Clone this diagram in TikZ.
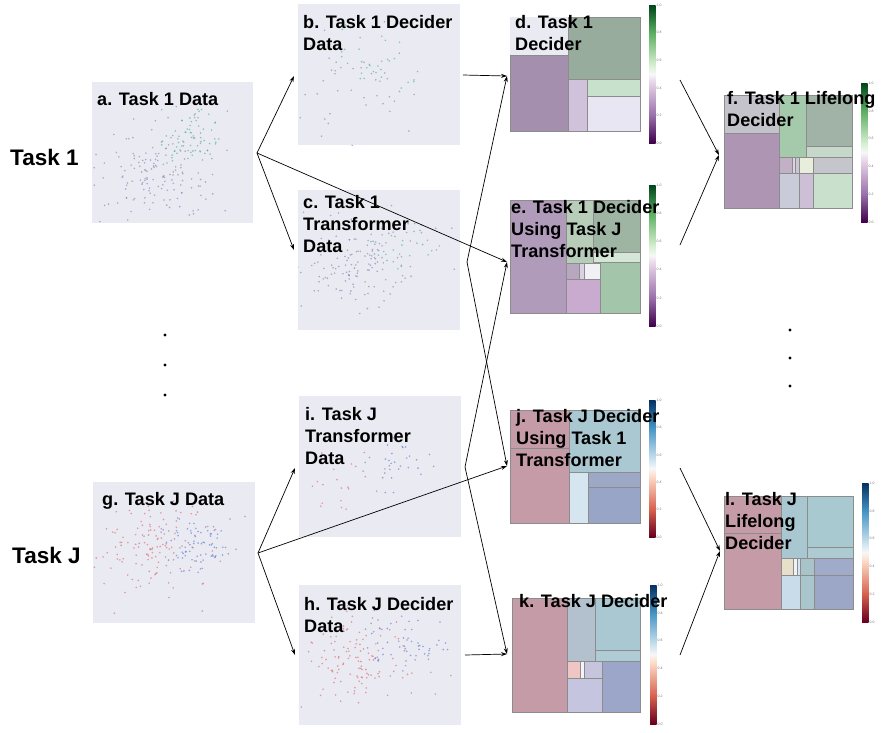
\documentclass[tikz,border=0pt]{standalone}
\usepackage{fontspec}
\setmainfont{Liberation Sans}
\usetikzlibrary{arrows.meta}

\definecolor{panelbg}{HTML}{EAEAF2}
\definecolor{ptsP}{RGB}{125,112,170}
\definecolor{ptsG}{RGB}{55,165,140}
\definecolor{ptsR}{RGB}{215,85,85}
\definecolor{ptsB}{RGB}{70,105,200}
\definecolor{pg0}{HTML}{40004B}
\definecolor{pg1}{HTML}{9970AB}
\definecolor{pg2}{HTML}{E7D4E8}
\definecolor{pg3}{HTML}{F7F7F7}
\definecolor{pg4}{HTML}{D9F0D3}
\definecolor{pg5}{HTML}{5AAE61}
\definecolor{pg6}{HTML}{00441B}
\definecolor{rb0}{HTML}{67001F}
\definecolor{rb1}{HTML}{D6604D}
\definecolor{rb2}{HTML}{FDDBC7}
\definecolor{rb3}{HTML}{F7F7F7}
\definecolor{rb4}{HTML}{D1E5F0}
\definecolor{rb5}{HTML}{4393C3}
\definecolor{rb6}{HTML}{053061}

\pgfdeclareverticalshading{prgn}{100bp}{color(0bp)=(pg0); color(25bp)=(pg0); color(35bp)=(pg1);
	color(47bp)=(pg2); color(50bp)=(pg3); color(53bp)=(pg4); color(65bp)=(pg5); color(75bp)=(pg6); color(100bp)=(pg6)}
\pgfdeclareverticalshading{rdbu}{100bp}{color(0bp)=(rb0); color(25bp)=(rb0); color(35bp)=(rb1);
	color(47bp)=(rb2); color(50bp)=(rb3); color(53bp)=(rb4); color(65bp)=(rb5); color(75bp)=(rb6); color(100bp)=(rb6)}

\newcommand{\blob}[6]{%
	\foreach \k in {1,...,#5} {%
		\pgfmathsetmacro{\px}{#1+#3*(rand+rand+rand)}%
		\pgfmathsetmacro{\py}{#2+#4*(rand+rand+rand)}%
		\fill[#6, opacity=.55] (\px,\py) circle (.9pt);%
	}%
}
\newcommand{\cells}[1]{%
	\foreach \xa/\ya/\xb/\yb/\c in {#1} {%
		\definecolor{cc}{HTML}{\c}%
		\filldraw[fill=cc, draw=black!45, line width=.4pt] (\xa,\ya) rectangle (\xb,\yb);%
	}%
}
\newcommand{\cbar}[4]{%
	\shade[shading=#4] (#1,#2) rectangle (#1+6.5,#3);
	\foreach \t [count=\n from 0] in {1.0,0.8,0.6,0.4,0.2,0.0}
		\node[ticklab] (cb#1-\n) at (#1+7.5, {#2+\n*(#3-#2)/5}) {\t};
}

\begin{document}
\begin{tikzpicture}[x=1pt, y=-1pt,
		panel/.style={fill=panelbg, anchor=north west, inner sep=0pt, outer sep=0pt},
		lab/.style={anchor=north west, inner sep=0pt, align=left, font=\fontsize{18.1}{22}\selectfont\bfseries},
		big/.style={anchor=north west, inner sep=0pt, font=\fontsize{22.5}{27}\selectfont\bfseries},
		ticklab/.style={anchor=west, inner sep=0pt, text=black!55, font=\fontsize{3.5}{4}\selectfont},
		arr/.style={line width=.7pt, arrows={-Stealth[length=6pt, width=4pt]}}]
	\useasboundingbox (0,0) rectangle (892,732);
	\pgfmathsetseed{11}

	\node[panel, minimum width=161pt, minimum height=141pt] (a) at (92,82) {};
	\node[panel, minimum width=162pt, minimum height=141pt] (b) at (298,4) {};
	\node[panel, minimum width=162pt, minimum height=140pt] (c) at (298,190) {};
	\node[panel, minimum width=162pt, minimum height=141pt] (g) at (93,482) {};
	\node[panel, minimum width=162pt, minimum height=141pt] (i) at (299,396) {};
	\node[panel, minimum width=162pt, minimum height=140pt] (h) at (299,585) {};

	\begin{scope}
		\clip (a.north west) rectangle (a.south east);
		\blob{150}{180}{28}{20}{120}{ptsP}
		\blob{140}{170}{45}{30}{30}{ptsP}
		\blob{190}{140}{16}{16}{80}{ptsG}
	\end{scope}
	\begin{scope}
		\clip (b.north west) rectangle (b.south east);
		\blob{340}{90}{35}{28}{45}{ptsP}
		\blob{375}{60}{22}{18}{35}{ptsG}
	\end{scope}
	\begin{scope}
		\clip (c.north west) rectangle (c.south east);
		\blob{350}{268}{28}{20}{110}{ptsP}
		\blob{370}{260}{45}{35}{20}{ptsP}
		\blob{395}{245}{20}{14}{40}{ptsG}
	\end{scope}
	\begin{scope}
		\clip (g.north west) rectangle (g.south east);
		\blob{145}{548}{25}{20}{110}{ptsR}
		\blob{160}{560}{45}{30}{25}{ptsR}
		\blob{200}{545}{18}{14}{80}{ptsB}
	\end{scope}
	\begin{scope}
		\clip (i.north west) rectangle (i.south east);
		\blob{340}{480}{25}{18}{20}{ptsR}
		\blob{395}{462}{18}{12}{30}{ptsB}
	\end{scope}
	\begin{scope}
		\clip (h.north west) rectangle (h.south east);
		\blob{350}{655}{28}{20}{110}{ptsR}
		\blob{370}{660}{45}{30}{20}{ptsR}
		\blob{405}{640}{18}{14}{55}{ptsB}
	\end{scope}

	\node[panel, minimum width=130pt, minimum height=114pt] (d) at (510,17) {};
	\node[panel, minimum width=130pt, minimum height=113pt] (e) at (510,200) {};
	\node[panel, minimum width=128pt, minimum height=113pt] (f) at (724,95) {};
	\node[panel, minimum width=130pt, minimum height=113pt] (j) at (510,410) {};
	\node[panel, minimum width=128pt, minimum height=114pt] (k) at (512,598) {};
	\node[panel, minimum width=129pt, minimum height=113pt] (l) at (724,496) {};

	\cells{510/55/568/131/A58FAE, 568/17/640/79/97AC9D, 568/79/587/131/D0C2DA,
		587/79/640/96/C8E1CD, 587/96/640/131/E8E6F2}
	\cells{510/200/566/313/B09BBB, 566/200/593/263/B7CDBA, 593/200/640/252/9FB5A4,
		593/252/640/262/D4E6D6, 566/263/579/279/B8A8BF, 579/263/584/279/D9D2E2,
		584/263/600/279/F0F0F5, 566/279/600/313/C9ABD0, 600/262/640/313/A3C6AA}
	\cells{724/95/779/133/C4C3CB, 724/133/779/208/AE95B4, 779/95/806/157/A5C9AB,
		806/95/852/146/A1B3A6, 806/146/852/157/C5D8C9, 779/157/792/173/C2B0C6,
		792/157/795/173/DCD4E4, 795/157/799/173/C8C8D0, 799/157/813/173/E8EEDB,
		813/157/852/173/C4C6CC, 779/173/799/208/CACBD9, 799/173/813/208/CDBFD5,
		813/173/852/208/C9E0CC}
	\cells{510/410/569/448/C49BA6, 510/448/569/523/C49BA6, 569/410/640/472/A9C8D1,
		569/472/588/523/D6E6F0, 588/472/640/487/9CA8C5, 588/487/640/523/98A5C6}
	\cells{512/598/567/712/C49BA6, 567/598/595/661/B3C1CE, 595/598/640/650/A9C8D1,
		595/650/640/661/AFCCD5, 567/661/580/678/EFC6C4, 580/661/584/678/F4F4F8,
		584/661/602/678/C7C4DD, 567/678/602/712/C5C5DF, 602/661/640/712/9BA6C8}
	\cells{724/496/781/533/C49BA6, 724/533/781/609/C49BA6, 781/496/807/558/A9C7D0,
		807/496/853/547/A9C9D1, 807/547/853/558/AECBD3, 781/558/793/575/E8DFCB,
		793/558/797/575/F2F2F6, 797/558/800/575/D6E6F0, 800/558/814/575/A9C3CB,
		814/558/853/575/9FABC8, 781/575/800/609/C8DCEA, 800/575/814/609/A9C6CC,
		814/575/853/609/9CA7C8}

	\cbar{649}{5}{143}{prgn}
	\cbar{649}{185}{326}{prgn}
	\cbar{861}{83}{222}{prgn}
	\cbar{649}{400}{537}{rdbu}
	\cbar{650}{585}{724}{rdbu}
	\cbar{862}{483}{622}{rdbu}

	\node[big] (t1) at (10,149) {Task 1};
	\node[big] (tJ) at (12,547) {Task J};
	\node[lab] (alab) at (97,92) {a. Task 1 Data};
	\node[lab] (blab) at (303,15) {b. Task 1 Decider\\Data};
	\node[lab] (clab) at (303,195) {c. Task 1\\Transformer\\Data};
	\node[lab] (dlab) at (515,15) {d. Task 1\\Decider};
	\node[lab] (elab) at (511,200) {e. Task 1 Decider\\Using Task J\\Transformer};
	\node[lab] (flab) at (727,91) {f. Task 1 Lifelong\\Decider};
	\node[lab] (glab) at (102,492) {g. Task J Data};
	\node[lab] (hlab) at (304,597) {h. Task J Decider\\Data};
	\node[lab] (ilab) at (305,407) {i. Task J\\Transformer\\Data};
	\node[lab] (jlab) at (516,409) {j. Task J Decider\\Using Task 1\\Transformer};
	\node[lab] (klab) at (519,594) {k. Task J Decider};
	\node[lab] (llab) at (725,492) {l. Task J\\Lifelong\\Decider};

	\coordinate (aout) at (257,153);
	\coordinate (gout) at (258,553);
	\coordinate (bin) at (294,76);
	\coordinate (cin) at (294,250);
	\coordinate (iin) at (295,468);
	\coordinate (hin) at (295,655);
	\coordinate (bout) at (463,75);
	\coordinate (cout) at (467,262);
	\coordinate (iout) at (465,467);
	\coordinate (hout) at (465,655);
	\coordinate (din) at (507,76);
	\coordinate (ein) at (507,262);
	\coordinate (jin) at (507,466);
	\coordinate (kin) at (507,654);
	\coordinate (dout) at (680,80);
	\coordinate (eout) at (680,245);
	\coordinate (jout) at (680,468);
	\coordinate (kout) at (680,655);
	\coordinate (fin) at (719,155);
	\coordinate (lin) at (720,551);

	\draw[arr] (aout) -- (bin);
	\draw[arr] (aout) -- (cin);
	\draw[arr] (aout) -- (ein);
	\draw[arr] (gout) -- (iin);
	\draw[arr] (gout) -- (hin);
	\draw[arr] (gout) -- (jin);
	\draw[arr] (bout) -- (din);
	\draw[arr] (cout) -- (din);
	\draw[arr] (cout) -- (jin);
	\draw[arr] (iout) -- (ein);
	\draw[arr] (iout) -- (kin);
	\draw[arr] (hout) -- (kin);
	\draw[arr] (dout) -- (fin);
	\draw[arr] (eout) -- (fin);
	\draw[arr] (jout) -- (lin);
	\draw[arr] (kout) -- (lin);

	\foreach \yy in {335,365,395} \fill (165,\yy) circle (1.6pt);
	\foreach \yy in {330,358,386} \fill (790,\yy) circle (1.6pt);
\end{tikzpicture}
\end{document}
